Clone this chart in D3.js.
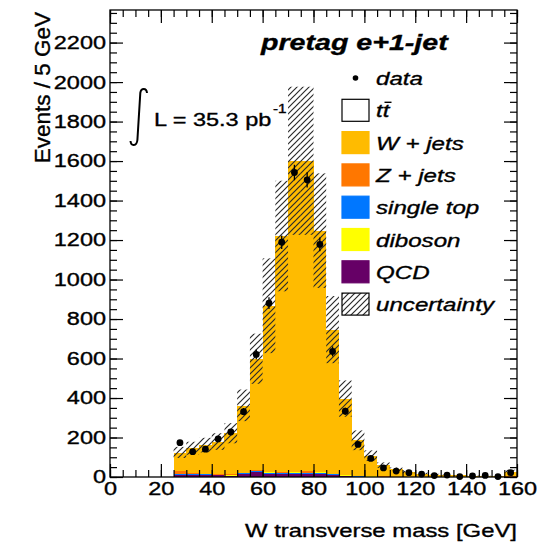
<!DOCTYPE html>
<html>
<head>
<meta charset="utf-8">
<script src="https://cdn.jsdelivr.net/npm/d3@7"></script>
<style>
  body { margin: 0; background: #fff; }
  svg { display: block; }
  text { font-family: "Liberation Sans", Arial, Helvetica, sans-serif; fill: #000; stroke: #000; stroke-width: 0.35px; }
</style>
</head>
<body>
<div id="chart"></div>
<script>
// bin lower edges (5 GeV bins)
const binLow = [25, 30, 35, 40, 45, 50, 55, 60, 65, 70, 75, 80, 85, 90, 95, 100, 105, 110, 115, 120, 125, 130, 135, 140, 145, 150, 155];
const binWidth = 5;

// MC components (events / bin)
const qcd     = [12, 12, 9, 9, 5, 13, 25, 17, 14, 14, 17, 14, 9, 4, 2, 1.5, 1, 0.8, 0.5, 0.4, 0.3, 0.3, 0.2, 0.2, 0.2, 0.1, 0.5];
const singleTop = [2, 3, 5, 2, 2, 5, 3, 5, 4, 5, 4, 6, 5, 3, 2, 1, 1, 0.8, 0.6, 0.5, 0.4, 0.3, 0.3, 0.2, 0.2, 0.2, 1];
const diboson = [1, 1, 1, 1, 4, 1, 1, 1, 4, 4, 1, 4, 1, 3, 1, 0.5, 0.3, 0.3, 0.3, 0.2, 0.2, 0.2, 0.1, 0.1, 0.1, 0.1, 0.3];
const zjets   = [13, 4, 2, 5, 2, 3, 5, 3, 3, 2, 6, 2, 2, 2, 2, 1, 0.8, 0.6, 0.5, 0.4, 0.3, 0.3, 0.2, 0.2, 0.2, 0.2, 1];
const wjets   = [96, 125, 144, 162, 208, 340, 564, 840, 1194, 1575, 1572, 1220, 728, 384, 178, 103, 56, 36, 22.5, 16, 11.3, 8.4, 6.8, 5, 4, 3.1, 25];
const ttbar   = [0.5, 0.5, 0.5, 0.6, 0.7, 0.9, 1, 1.2, 1.3, 1.4, 1.5, 1.5, 1.4, 1.2, 1, 0.9, 0.8, 0.7, 0.6, 0.6, 0.5, 0.5, 0.4, 0.4, 0.4, 0.3, 2];

// total MC uncertainty (events)
const uncert  = [28, 33, 37, 42, 51, 80, 127, 240, 280, 375, 375, 290, 170, 92, 50, 27, 14, 9, 6, 4, 3, 2, 2, 1.5, 1.2, 1, 7];

// data
const dataVals = [174, 128, 141, 193, 228, 331, 621, 880, 1189, 1542, 1505, 1178, 636, 333, 165, 94, 46, 30, 22, 15, 7, 10, 2, 5, 8, 2, 22];

// stack order, bottom to top
const compKeys   = ["qcd", "singleTop", "diboson", "zjets", "wjets", "ttbar"];
const compSeries = [qcd, singleTop, diboson, zjets, wjets, ttbar];
const compColor  = { qcd: "#660066", singleTop: "#0077ff", diboson: "#ffff00", zjets: "#ff7700", wjets: "#ffbb00", ttbar: "#ffffff" };

const xTicks = [0, 20, 40, 60, 80, 100, 120, 140, 160];
const yTicks = [0, 200, 400, 600, 800, 1000, 1200, 1400, 1600, 1800, 2000, 2200];

const legendItems = [
  { label: "data", type: "marker" },
  { label: "tt", type: "box", fill: "#ffffff", stroke: "#000", bar: true },
  { label: "W + jets", type: "box", fill: compColor.wjets },
  { label: "Z + jets", type: "box", fill: compColor.zjets },
  { label: "single top", type: "box", fill: compColor.singleTop },
  { label: "diboson", type: "box", fill: compColor.diboson },
  { label: "QCD", type: "box", fill: compColor.qcd },
  { label: "uncertainty", type: "hatch" }
];

const W = 545, H = 547;
const frame = { left: 110, right: 517, top: 10, bottom: 477 };
const SX = 1.27; // horizontal stretch of the text

const svg = d3.select("#chart").append("svg")
  .attr("width", W).attr("height", H);

const defs = svg.append("defs");
const pat = defs.append("pattern")
  .attr("id", "hatch")
  .attr("patternUnits", "userSpaceOnUse")
  .attr("width", 6).attr("height", 6);
pat.append("path")
  .attr("d", "M0,6 L6,0 M-1.5,1.5 L1.5,-1.5 M4.5,7.5 L7.5,4.5")
  .attr("stroke", "#2a2a2a").attr("stroke-width", 1.2);

const x = d3.scaleLinear().domain([0, 160]).range([frame.left, frame.right]);
const y = d3.scaleLinear().domain([0, 2365]).range([frame.bottom, frame.top]);

// Build stacked table
const table = binLow.map(function (lo, i) {
  const row = { lo: lo };
  compKeys.forEach(function (k, j) { row[k] = compSeries[j][i]; });
  return row;
});
const stacked = d3.stack().keys(compKeys)(table);

const plot = svg.append("g");

stacked.forEach(function (layer) {
  plot.append("g")
    .selectAll("rect")
    .data(layer)
    .enter().append("rect")
    .attr("x", function (d) { return x(d.data.lo); })
    .attr("width", function (d) { return x(d.data.lo + binWidth) - x(d.data.lo); })
    .attr("y", function (d) { return y(d[1]); })
    .attr("height", function (d) { return Math.max(0, y(d[0]) - y(d[1])); })
    .attr("fill", compColor[layer.key])
    .attr("shape-rendering", "crispEdges");
});

// Uncertainty band
const mcTotal = binLow.map(function (lo, i) {
  return compSeries.reduce(function (s, arr) { return s + arr[i]; }, 0);
});
plot.append("g")
  .selectAll("rect")
  .data(binLow)
  .enter().append("rect")
  .attr("x", function (d) { return x(d); })
  .attr("width", function (d) { return x(d + binWidth) - x(d); })
  .attr("y", function (d, i) { return y(mcTotal[i] + uncert[i]); })
  .attr("height", function (d, i) { return y(Math.max(0, mcTotal[i] - uncert[i])) - y(mcTotal[i] + uncert[i]); })
  .attr("fill", "url(#hatch)");

// Data points
const pts = plot.append("g");
pts.selectAll("line")
  .data(dataVals)
  .enter().append("line")
  .attr("x1", function (d, i) { return x(binLow[i] + binWidth / 2); })
  .attr("x2", function (d, i) { return x(binLow[i] + binWidth / 2); })
  .attr("y1", function (d) { return y(d + Math.sqrt(d)); })
  .attr("y2", function (d) { return y(Math.max(0, d - Math.sqrt(d))); })
  .attr("stroke", "#000").attr("stroke-width", 1.3);
pts.selectAll("circle")
  .data(dataVals)
  .enter().append("circle")
  .attr("cx", function (d, i) { return x(binLow[i] + binWidth / 2); })
  .attr("cy", function (d) { return y(d); })
  .attr("r", 3.4)
  .attr("fill", "#000");

// Axes (ticks pointing inside the frame)
function styleAxis(g) {
  g.select(".domain").remove();
  g.selectAll(".tick line").attr("stroke", "#000").attr("stroke-width", 1.2);
}
function stretchLabels(g, fontSize) {
  g.selectAll(".tick text")
    .attr("font-size", fontSize)
    .attr("font-family", "Liberation Sans, Arial, sans-serif")
    .attr("fill", "#000")
    .each(function () {
      const t = d3.select(this);
      const xv = +t.attr("x") || 0;
      t.attr("x", xv / SX).attr("transform", "scale(" + SX + ",1)");
    });
}

const minorX = d3.range(0, 161, 5);
const minorY = d3.range(0, 2351, 50);

svg.append("g").attr("transform", "translate(0," + frame.bottom + ")")
  .call(d3.axisBottom(x).tickValues(minorX).tickSize(-7).tickFormat(""))
  .call(styleAxis);
const xAxis = svg.append("g").attr("transform", "translate(0," + frame.bottom + ")")
  .call(d3.axisBottom(x).tickValues(xTicks).tickSize(-13).tickPadding(5).tickFormat(d3.format("d")))
  .call(styleAxis);
stretchLabels(xAxis, 18.5);

svg.append("g").attr("transform", "translate(0," + frame.top + ")")
  .call(d3.axisTop(x).tickValues(minorX).tickSize(-7).tickFormat(""))
  .call(styleAxis);
svg.append("g").attr("transform", "translate(0," + frame.top + ")")
  .call(d3.axisTop(x).tickValues(xTicks).tickSize(-13).tickFormat(""))
  .call(styleAxis);

svg.append("g").attr("transform", "translate(" + frame.left + ",0)")
  .call(d3.axisLeft(y).tickValues(minorY).tickSize(-7).tickFormat(""))
  .call(styleAxis);
const yAxis = svg.append("g").attr("transform", "translate(" + frame.left + ",0)")
  .call(d3.axisLeft(y).tickValues(yTicks).tickSize(-13).tickPadding(4).tickFormat(d3.format("d")))
  .call(styleAxis);
stretchLabels(yAxis, 18.5);

svg.append("g").attr("transform", "translate(" + frame.right + ",0)")
  .call(d3.axisRight(y).tickValues(minorY).tickSize(-7).tickFormat(""))
  .call(styleAxis);
svg.append("g").attr("transform", "translate(" + frame.right + ",0)")
  .call(d3.axisRight(y).tickValues(yTicks).tickSize(-13).tickFormat(""))
  .call(styleAxis);

// Frame
svg.append("rect")
  .attr("x", frame.left).attr("y", frame.top)
  .attr("width", frame.right - frame.left).attr("height", frame.bottom - frame.top)
  .attr("fill", "none").attr("stroke", "#000").attr("stroke-width", 1.3);

// Helper for horizontally stretched text
function addText(str, px, py, size, opts) {
  opts = opts || {};
  const t = svg.append("text")
    .attr("transform", "translate(" + px + "," + py + ") scale(" + (opts.sx || SX) + ",1)")
    .attr("font-size", size)
    .attr("text-anchor", opts.anchor || "start")
    .attr("font-style", opts.italic ? "italic" : "normal")
    .attr("font-weight", opts.bold ? "bold" : "normal")
    .text(str);
  return t;
}

// Axis titles
addText("W transverse mass [GeV]", 517, 537, 19, { anchor: "end", sx: 1.257 });
svg.append("text")
  .attr("transform", "translate(50,12) rotate(-90)")
  .attr("text-anchor", "end")
  .attr("font-size", 22.5)
  .text("Events / 5 GeV");

// Title
addText("pretag e+1-jet", 261, 50, 22, { bold: true, italic: true, sx: 1.3 });

// Luminosity label
svg.append("path")
  .attr("d", "M147,93 C146.5,87.5 141,87.5 140.3,93 L137.4,140 C136.7,146.5 131,146.5 130.5,141")
  .attr("fill", "none").attr("stroke", "#000").attr("stroke-width", 2);
addText("L = 35.3 pb", 154, 126, 18.5);
addText("-1", 273, 113, 12);

// Legend
const legX = 342, legW = 27, legH = 22, legTextX = 376;
legendItems.forEach(function (item, i) {
  const cy = 78 + i * 32.3;
  if (item.type === "marker") {
    svg.append("circle").attr("cx", legX + legW / 2).attr("cy", cy).attr("r", 2.8).attr("fill", "#000");
  } else if (item.type === "box") {
    svg.append("rect")
      .attr("x", legX).attr("y", cy - legH / 2)
      .attr("width", legW).attr("height", legH)
      .attr("fill", item.fill)
      .attr("stroke", item.stroke || item.fill).attr("stroke-width", 1.2);
  } else {
    svg.append("rect")
      .attr("x", legX).attr("y", cy - legH / 2)
      .attr("width", legW).attr("height", legH)
      .attr("fill", "url(#hatch)")
      .attr("stroke", "#000").attr("stroke-width", 1.2);
  }
  addText(item.label, legTextX, cy + 7, 19, { italic: true });
  if (item.bar) {
    // bar over the second t
    svg.append("line")
      .attr("x1", legTextX + 8.5).attr("x2", legTextX + 15.5)
      .attr("y1", cy - 8).attr("y2", cy - 8)
      .attr("stroke", "#000").attr("stroke-width", 1.4);
  }
});
</script>
</body>
</html>
